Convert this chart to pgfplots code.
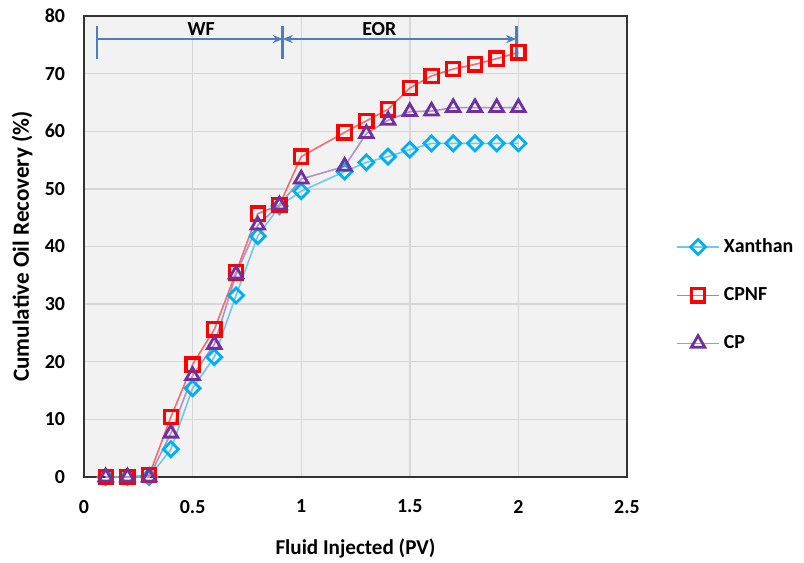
\documentclass[border=0pt]{standalone}
\usepackage{fontspec}
\setmainfont{Carlito}
\usepackage{pgfplots}
\pgfplotsset{compat=1.18}
\usetikzlibrary{arrows.meta}

\definecolor{xancol}{RGB}{0,176,240}
\definecolor{xanline}{RGB}{110,200,240}
\definecolor{cpnfcol}{RGB}{255,0,0}
\definecolor{cpnfline}{RGB}{240,110,110}
\definecolor{cpcol}{RGB}{112,48,160}
\definecolor{cpline}{RGB}{175,145,205}
\definecolor{arrowblue}{RGB}{74,126,192}
\definecolor{plotbg}{RGB}{242,242,242}
\definecolor{gridgray}{RGB}{215,215,215}

\newcommand{\lblfont}{\fontsize{10}{12}\selectfont\bfseries}

\begin{document}
\begin{tikzpicture}
\path[use as bounding box] (-42bp,-43bp) rectangle (360bp,238.5bp);
\begin{axis}[
  scale only axis,
  width=271.5bp, height=230.5bp,
  xmin=0, xmax=2.5, ymin=0, ymax=80,
  xtick={0,0.5,1,1.5,2,2.5},
  ytick={0,10,...,80},
  grid=major,
  major grid style={gridgray, line width=0.7bp},
  axis background/.style={fill=plotbg},
  axis line style={black!80, line width=0.9bp},
  major tick length=0pt,
  clip=false,
  /pgf/number format/assume math mode=true,
  tick label style={font=\lblfont},
  xticklabel style={yshift=-8bp},
  yticklabel style={xshift=-6bp},
  xlabel={Fluid Injected (PV)},
  ylabel={Cumulative Oil Recovery (\%)},
  xlabel style={font=\fontsize{10.6}{12}\selectfont\bfseries,
    at={(axis description cs:0.5,-0.154)}, anchor=center},
  ylabel style={font=\fontsize{11.6}{13}\selectfont\bfseries,
    at={(axis description cs:-0.114,0.5)}, anchor=center},
  legend style={at={(1.09,0.527)}, anchor=north west, draw=none, fill=none,
    font=\lblfont, row sep=12bp, inner sep=0pt},
  legend cell align=left,
  legend image code/.code={%
    \draw[#1, mark repeat=2, mark phase=2]
      plot coordinates {(0bp,0bp) (10.5bp,0bp) (21bp,0bp)};},
]

\addplot[color=xanline, line width=0.8bp, mark=square, mark size=2.65bp,
  mark options={draw=xancol, fill=white, line width=1.4bp, rotate=45}]
  coordinates {
  (0.1,0) (0.2,0) (0.3,0) (0.4,4.8) (0.5,15.4) (0.6,20.8) (0.7,31.5)
  (0.8,41.8) (0.9,47) (1.0,49.6) (1.2,53) (1.3,54.6) (1.4,55.6)
  (1.5,56.8) (1.6,57.9) (1.7,57.9) (1.8,57.9) (1.9,57.9) (2.0,57.9)};
\addlegendentry{Xanthan}

\addplot[color=cpnfline, line width=0.8bp, mark=square, mark size=3.3bp,
  mark options={draw=cpnfcol, fill=white, line width=1.6bp}]
  coordinates {
  (0.1,0) (0.2,0) (0.3,0.3) (0.4,10.4) (0.5,19.5) (0.6,25.6) (0.7,35.5)
  (0.8,45.7) (0.9,47.2) (1.0,55.6) (1.2,59.8) (1.3,61.8) (1.4,63.8)
  (1.5,67.5) (1.6,69.6) (1.7,70.8) (1.8,71.6) (1.9,72.6) (2.0,73.7)};
\addlegendentry{CPNF}

\addplot[color=cpline, line width=0.8bp, mark=triangle, mark size=3.9bp,
  mark options={draw=cpcol, fill=white, line width=1.4bp}]
  coordinates {
  (0.1,0) (0.2,0) (0.3,0) (0.4,7.6) (0.5,17.6) (0.6,23) (0.7,35.2)
  (0.8,43.7) (0.9,47.2) (1.0,51.7) (1.2,53.9) (1.3,59.6) (1.4,61.9)
  (1.5,63.4) (1.6,63.5) (1.7,64.1) (1.8,64.1) (1.9,64.1) (2.0,64.1)};
\addlegendentry{CP}

% flooding stages
\draw[arrowblue, line width=1.3bp, -{Stealth[length=5bp,width=4bp]}]
  (axis cs:0.06,76) -- (axis cs:0.915,76);
\draw[arrowblue, line width=1.3bp, {Stealth[length=5bp,width=4bp]}-{Stealth[length=5bp,width=4bp]}]
  (axis cs:0.915,76) -- (axis cs:1.99,76);
\draw[arrowblue, line width=1.3bp] (axis cs:0.06,72.5) -- (axis cs:0.06,78.3);
\draw[arrowblue, line width=1.3bp] (axis cs:0.915,72.5) -- (axis cs:0.915,78.3);
\draw[arrowblue, line width=1.3bp] (axis cs:1.99,72.5) -- (axis cs:1.99,78.3);
\node[font=\lblfont, anchor=base] at (axis cs:0.54,76.6) {WF};
\node[font=\lblfont, anchor=base] at (axis cs:1.36,76.6) {EOR};
\end{axis}
\end{tikzpicture}
\end{document}
